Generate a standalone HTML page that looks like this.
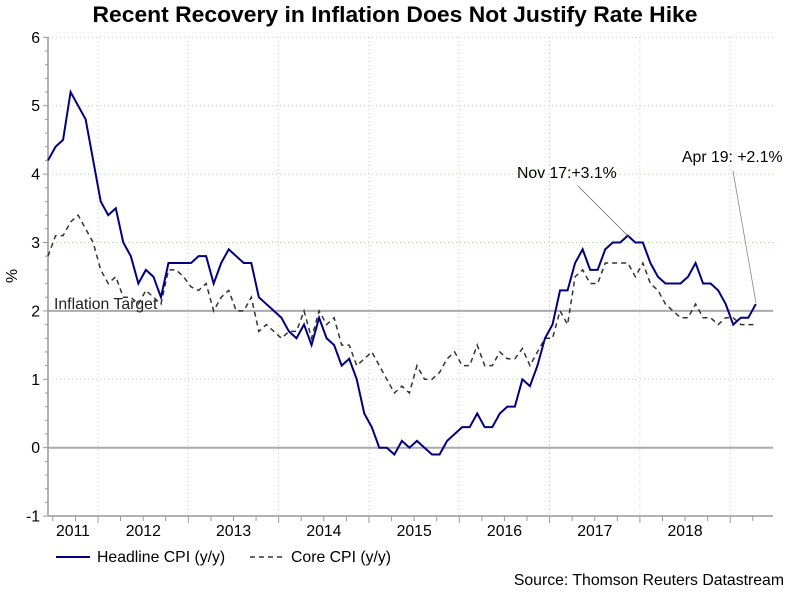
<!DOCTYPE html>
<html><head><meta charset="utf-8"><style>
body{margin:0;background:#fff;}
svg text{font-family:"Liberation Sans",Arial,sans-serif;}
</style></head><body>
<svg id="chart" width="791" height="589" viewBox="0 0 791 589" xmlns="http://www.w3.org/2000/svg">
<text x="395" y="22" text-anchor="middle" font-size="22" font-weight="bold" textLength="605" lengthAdjust="spacingAndGlyphs">Recent Recovery in Inflation Does Not Justify Rate Hike</text>
<g id="grid"></g>
<g id="axes"></g>
<text x="0" y="0" font-size="15.8" text-anchor="middle" transform="translate(17,276) rotate(-90)">%</text>
<text x="54" y="309" font-size="15.8" fill="#222">Inflation Target</text>
<g id="series"></g>
<text x="517" y="178" font-size="15.8">Nov 17:+3.1%</text>
<line x1="578" y1="186" x2="629" y2="237" stroke="#666" stroke-width="0.8"/>
<text x="682" y="162" font-size="15.8">Apr 19: +2.1%</text>
<line x1="733" y1="171" x2="756" y2="303" stroke="#888" stroke-width="0.8"/>
<g>
<line x1="56" y1="557" x2="90" y2="557" stroke="#000080" stroke-width="2"/>
<text x="97" y="562" font-size="15.8">Headline CPI (y/y)</text>
<line x1="250" y1="557" x2="285" y2="557" stroke="#333" stroke-width="1.5" stroke-dasharray="5,4"/>
<text x="291" y="562" font-size="15.8">Core CPI (y/y)</text>
</g>
<text x="784" y="585" font-size="15.8" text-anchor="end">Source: Thomson Reuters Datastream</text>
</svg>
<script>
const headline=[4.2,4.4,4.5,5.2,5.0,4.8,4.2,3.6,3.4,3.5,3.0,2.8,2.4,2.6,2.5,2.2,2.7,2.7,2.7,2.7,2.8,2.8,2.4,2.7,2.9,2.8,2.7,2.7,2.2,2.1,2.0,1.9,1.7,1.6,1.8,1.5,1.9,1.6,1.5,1.2,1.3,1.0,0.5,0.3,0.0,0.0,-0.1,0.1,0.0,0.1,0.0,-0.1,-0.1,0.1,0.2,0.3,0.3,0.5,0.3,0.3,0.5,0.6,0.6,1.0,0.9,1.2,1.6,1.8,2.3,2.3,2.7,2.9,2.6,2.6,2.9,3.0,3.0,3.1,3.0,3.0,2.7,2.5,2.4,2.4,2.4,2.5,2.7,2.4,2.4,2.3,2.1,1.8,1.9,1.9,2.1];
const core=[2.8,3.1,3.1,3.3,3.4,3.2,3.0,2.6,2.4,2.5,2.2,2.2,2.1,2.3,2.2,2.1,2.6,2.6,2.5,2.35,2.3,2.4,2.0,2.2,2.3,2.0,2.0,2.2,1.7,1.8,1.7,1.6,1.7,1.7,2.0,1.6,2.0,1.8,1.9,1.5,1.5,1.2,1.3,1.4,1.2,1.0,0.8,0.9,0.8,1.2,1.0,1.0,1.1,1.3,1.4,1.2,1.2,1.5,1.2,1.2,1.4,1.3,1.3,1.45,1.2,1.4,1.6,1.6,2.0,1.8,2.5,2.6,2.4,2.4,2.7,2.7,2.7,2.7,2.5,2.7,2.4,2.3,2.1,2.0,1.9,1.9,2.1,1.9,1.9,1.8,1.9,1.9,1.8,1.8,1.8];
const yTicks=[-1,0,1,2,3,4,5,6];
const yearLabels=["2011","2012","2013","2014","2015","2016","2017","2018"];
const target=2;
const NS="http://www.w3.org/2000/svg";
const X0=48,DX=7.53,XEND=773;
const x=i=>X0+i*DX;
const y=v=>447.7-v*68.4;
function mk(t,a,p){const e=document.createElementNS(NS,t);for(const k in a)e.setAttribute(k,a[k]);p.appendChild(e);return e;}
const grid=document.getElementById('grid'),axes=document.getElementById('axes'),series=document.getElementById('series');
yTicks.forEach(v=>{
 if(v===-1)return;
 const l=mk('line',{x1:X0,x2:XEND,y1:y(v),y2:y(v),stroke:(v===0||v===target)?'#aaa':'#b8d8b0','stroke-width':(v===0||v===target)?2:1,'stroke-dasharray':(v===0||v===target)?'none':'1,3'},grid);
 
 
});
yearLabels.forEach((lab,k)=>{
 const gx=98+k*90.3;
 const l=mk('line',{x1:gx,x2:gx,y1:37,y2:516,stroke:'#b8d8b0','stroke-width':1,'stroke-dasharray':'1,3'},grid);
 
 
 const cx=k===0?73:gx-45;
 const t=mk('text',{x:cx,y:536,'font-size':15.8,'text-anchor':'middle'},axes);
 t.textContent=lab;
 
 
});
const ya=mk('line',{x1:X0,x2:X0,y1:37,y2:516,stroke:'#999','stroke-width':1.5},axes);


const xa=mk('line',{x1:X0,x2:XEND,y1:516,y2:516,stroke:'#999','stroke-width':1.5},axes);


for(let v=-1;v<=6.001;v+=0.2){
 const major=Math.abs(v-Math.round(v))<0.01;
 const tk=mk('line',{x1:X0-(major?5:3),x2:X0,y1:y(v),y2:y(v),stroke:'#999'},axes);
 
 
}
yTicks.forEach(v=>{
 const t=mk('text',{x:40,y:y(v)+5.5,'font-size':15.8,'text-anchor':'end'},axes);
 t.textContent=v;
 
 
});
for(let k=-2;k<=30;k++){
 const tx=98+k*22.58;
 if(tx>XEND)break;
 const tk=mk('line',{x1:tx,x2:tx,y1:516,y2:k%4===0?523:521,stroke:'#999'},axes);
 
 
}
const pc=mk('polyline',{points:core.map((v,i)=>x(i)+','+y(v)).join(' '),fill:'none',stroke:'#333','stroke-width':1.5,'stroke-dasharray':'5,4'},series);


const ph=mk('polyline',{points:headline.map((v,i)=>x(i)+','+y(v)).join(' '),fill:'none',stroke:'#000080','stroke-width':2},series);


</script>
</body></html>
